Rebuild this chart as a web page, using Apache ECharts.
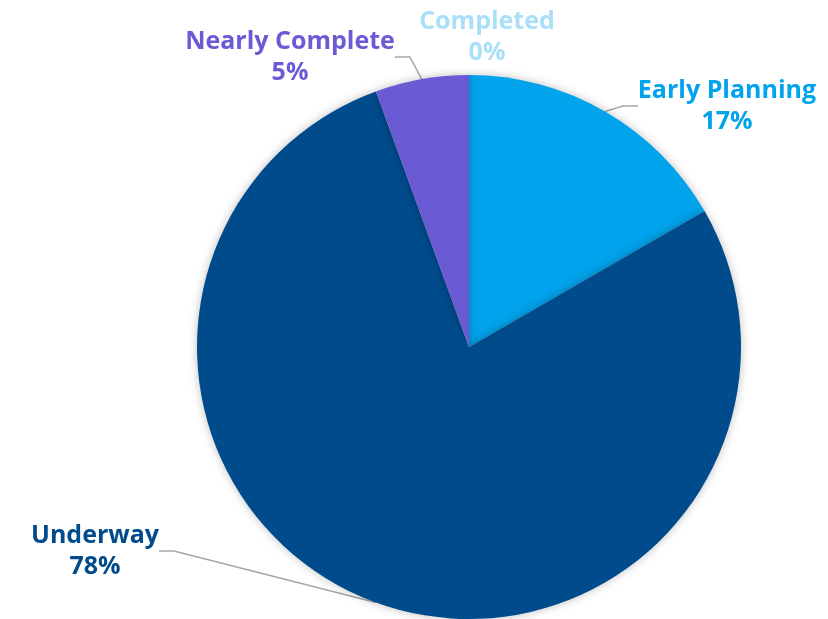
<!DOCTYPE html>
<html>
<head>
<meta charset="utf-8">
<script src="https://cdn.jsdelivr.net/npm/echarts@6/dist/echarts.min.js"></script>
<style>
html,body{margin:0;padding:0;background:#fff;}
#chart{width:828px;height:619px;}
</style>
</head>
<body>
<div id="chart"></div>
<script>
const categories = ['Early Planning', 'Underway', 'Nearly Complete', 'Completed'];
const counts = [3, 14, 1, 0];
const colors = ['#00a3ec', '#004b8c', '#6a5bd5', '#a9dff9'];
// label block centres (layout only)
const labelPos = [[727, 106], [95, 551], [290, 57], [487, 37]];

const chart = echarts.init(document.getElementById('chart'));
chart.setOption({
  animation: false,
  series: [{
    type: 'pie',
    center: [469, 347],
    radius: 272,
    startAngle: 90,
    clockwise: true,
    percentPrecision: 0,
    data: categories.map((c, i) => ({
      name: c,
      value: counts[i],
      itemStyle: { color: colors[i] },
      label: { color: colors[i] },
      labelLine: { show: i !== 3 }
    })),
    itemStyle: {
      shadowBlur: 10,
      shadowColor: 'rgba(0,0,0,0.25)'
    },
    label: {
      show: true,
      position: 'outside',
      formatter: '{b}\n{d}%',
      fontFamily: 'Open Sans',
      fontWeight: 'bold',
      fontSize: 25,
      lineHeight: 31,
      align: 'center'
    },
    labelLine: {
      show: true,
      length: 20,
      length2: 15,
      lineStyle: { color: '#a6a6a6', width: 1.5 }
    },
    labelLayout: function (p) {
      const pos = labelPos[p.dataIndex];
      return { x: pos[0], y: pos[1], align: 'center', verticalAlign: 'middle' };
    }
  }]
});
</script>
</body>
</html>
